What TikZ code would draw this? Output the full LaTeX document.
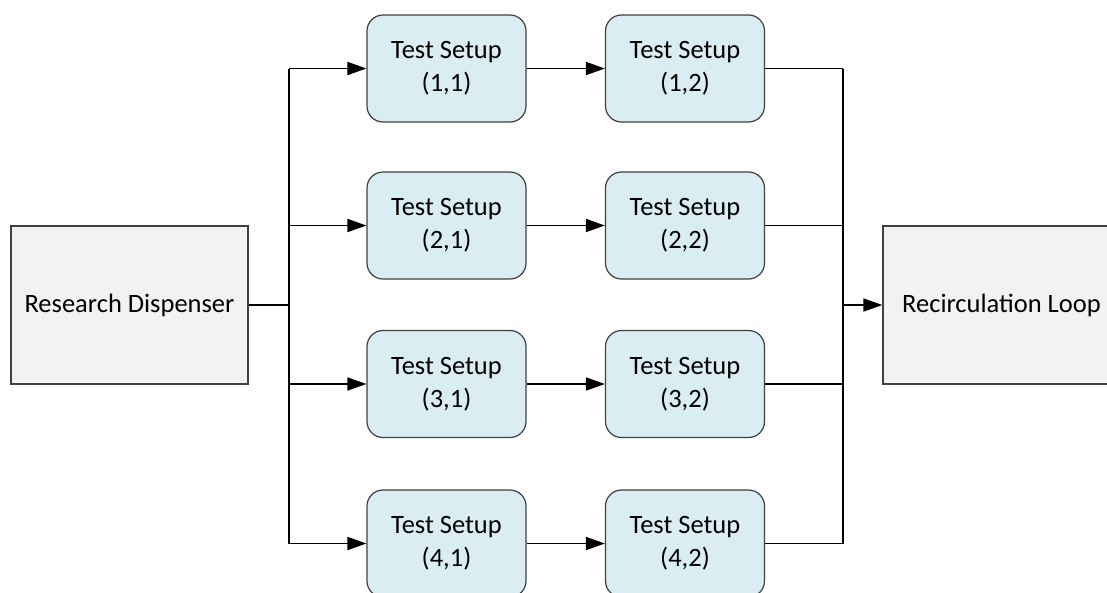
\documentclass[tikz,border=0pt]{standalone}
\usepackage{fontspec}
\setmainfont{Carlito}
\usetikzlibrary{arrows.meta}
\definecolor{setupfill}{HTML}{DAEDF3}
\definecolor{boxfill}{HTML}{F2F2F2}
\definecolor{edge}{HTML}{404040}
\tikzset{
  setup/.style={draw=edge, line width=1.2pt, fill=setupfill, rounded corners=16pt,
    minimum width=159pt, minimum height=107pt, align=center, font=\fontsize{26.5}{33}\selectfont, inner sep=0pt},
  bigbox/.style={draw=edge, line width=1.2pt, fill=boxfill, minimum height=158pt,
    align=center, font=\fontsize{26.5}{33}\selectfont, inner sep=0pt},
  wire/.style={line width=1.8pt, black},
  arr/.style={wire, -{Triangle[length=19pt,width=13pt]}}
}
\begin{document}
\begin{tikzpicture}[x=1pt,y=-1pt]
\useasboundingbox (0,0) rectangle (1107,592);
\node[bigbox, minimum width=237pt] (rd) at (129.5,305) {Research Dispenser};
\node[bigbox, minimum width=260pt] (rl) at (1013,305) {\hspace*{-23pt}Recirculation Loop};
\foreach \r/\y in {1/68.5,2/225.5,3/384,4/543.5}{
  \node[setup] (a\r) at (446.5,\y) {Test Setup\\(\r,1)};
  \node[setup] (b\r) at (685,\y) {Test Setup\\(\r,2)};
}
\coordinate (jl) at (289,305);
\coordinate (jr) at (843,305);
\draw[wire] (rd.east) -- (jl);
\draw[wire] (jl |- a1.west) -- (jl |- a4.west);
\draw[wire] (jr |- b1.east) -- (jr |- b4.east);
\draw[arr] (jr) -- (rl.west);
\foreach \r in {1,2,3,4}{
  \draw[arr] (jl |- a\r.west) -- (a\r.west);
  \draw[arr] (a\r.east) -- (b\r.west);
  \draw[wire] (b\r.east) -- (jr |- b\r.east);
}
\end{tikzpicture}
\end{document}
